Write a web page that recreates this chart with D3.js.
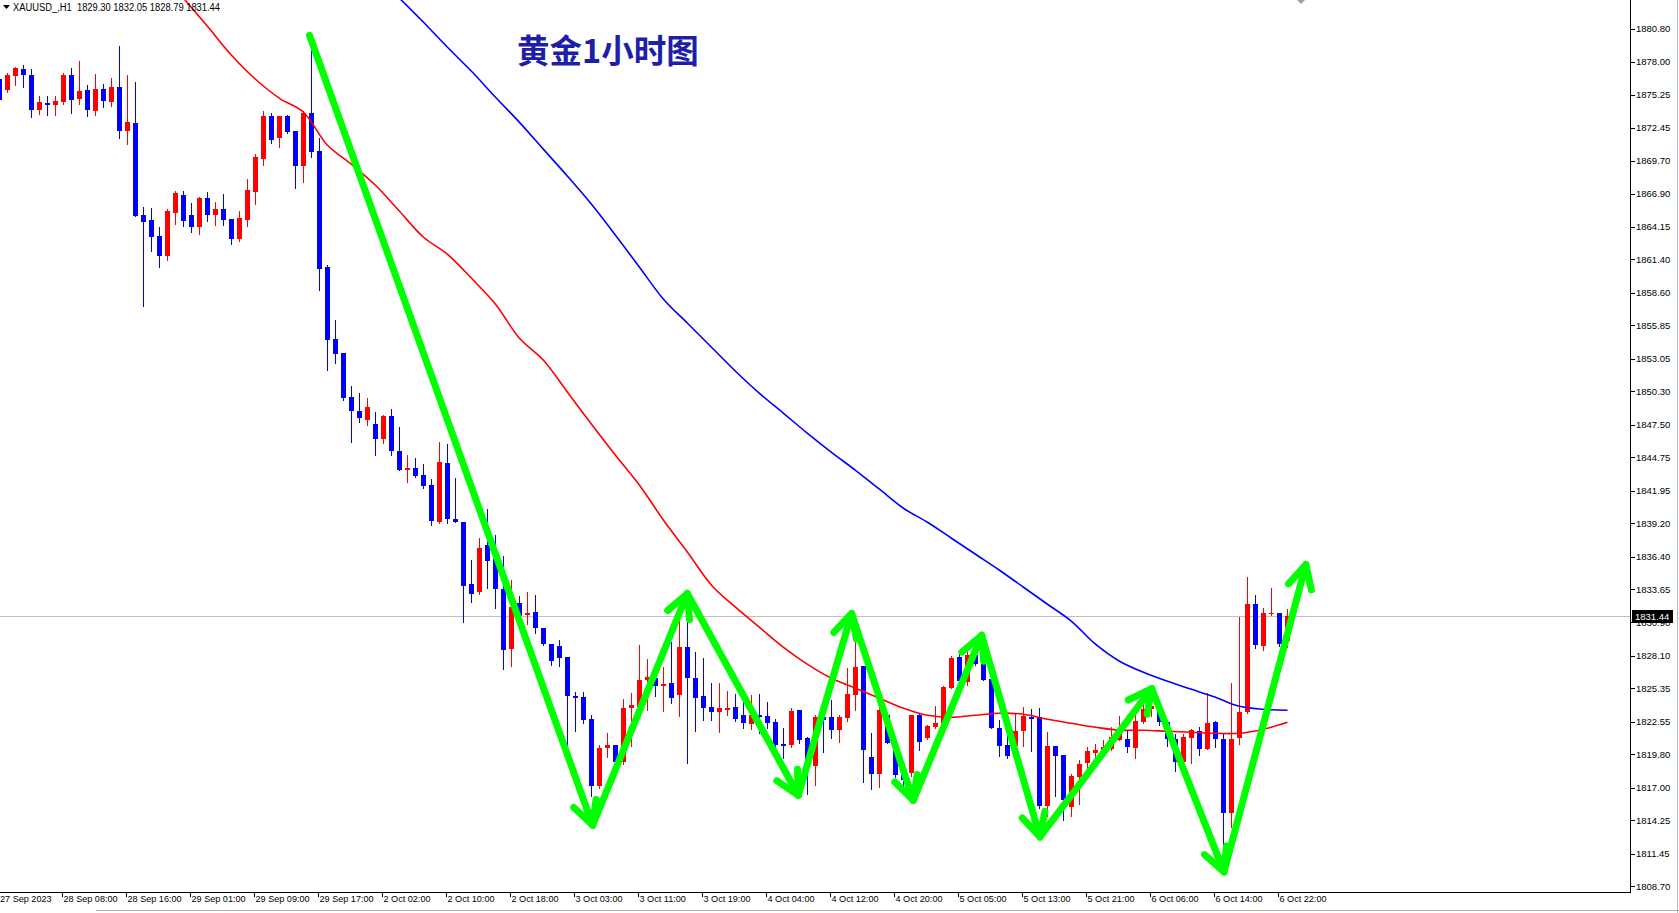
<!DOCTYPE html>
<html><head><meta charset="utf-8">
<script src="https://cdn.jsdelivr.net/npm/d3@7"></script>
<style>html,body{margin:0;padding:0;background:#fff;overflow:hidden}</style>
</head><body>
<script>
const symbolInfo = "XAUUSD_,H1  1829.30 1832.05 1828.79 1831.44";
const chartTitle = "黄金1小时图";

const openP = [1876.54,1875.61,1876.82,1877.38,1876.88,1873.93,1874.52,1874.35,1874.61,1876.88,
1874.86,1875.61,1873.85,1875.70,1874.61,1875.87,1872.17,1872.84,1865.11,1864.69,
1863.34,1861.66,1865.27,1866.79,1865.11,1864.10,1866.54,1865.11,1865.61,1864.77,
1863.09,1864.69,1867.04,1869.81,1873.43,1871.58,1873.43,1872.17,1869.23,1873.68,
1870.49,1860.74,1854.68,1853.51,1849.81,1848.63,1847.87,1847.54,1846.28,1848.21,
1845.27,1843.67,1843.84,1843.25,1842.41,1839.30,1844.26,1839.55,1839.30,1834.09,
1833.42,1837.37,1836.19,1833.67,1828.62,1832.49,1831.48,1831.73,1830.39,1829.05,
1828.88,1827.95,1824.67,1824.59,1822.74,1817.11,1820.30,1820.56,1819.13,1823.67,
1823.75,1826.02,1826.19,1825.51,1825.77,1824.76,1828.79,1826.19,1824.67,1823.75,
1823.33,1823.50,1823.75,1823.08,1822.32,1823.08,1822.99,1822.49,1820.64,1820.56,
1823.50,1821.14,1818.79,1822.91,1822.91,1821.82,1822.83,1824.76,1827.20,1819.55,
1818.12,1823.08,1820.72,1818.20,1818.20,1823.08,1821.14,1822.07,1822.40,1825.35,
1827.95,1825.85,1828.12,1827.45,1826.10,1821.98,1820.56,1820.47,1821.73,1822.91,
1822.91,1815.43,1820.47,1819.71,1815.35,1817.87,1819.04,1819.88,1820.13,1820.22,
1820.98,1821.06,1820.30,1822.49,1823.58,1823.50,1822.49,1821.06,1819.13,1821.14,
1821.73,1820.22,1822.49,1821.06,1814.84,1821.14,1823.33,1832.41,1828.88,1831.57,
1831.65,1829.30];
const highP = [1876.79,1877.07,1877.57,1877.72,1877.38,1875.11,1875.11,1875.11,1877.07,1877.46,
1878.05,1876.03,1876.96,1876.12,1876.62,1879.31,1876.88,1876.29,1865.78,1865.70,
1864.10,1865.61,1867.13,1867.13,1866.12,1866.62,1867.04,1866.20,1866.87,1864.77,
1865.44,1868.13,1870.23,1873.85,1873.68,1873.43,1873.50,1872.17,1873.85,1878.98,
1871.58,1860.90,1856.28,1853.51,1850.73,1850.14,1849.72,1848.55,1848.30,1848.80,
1847.29,1844.93,1844.68,1844.18,1842.92,1846.03,1845.86,1843.00,1839.30,1836.11,
1837.95,1840.39,1838.21,1836.44,1834.43,1833.08,1833.42,1833.16,1830.39,1829.05,
1829.38,1827.95,1825.01,1825.01,1823.08,1820.56,1821.56,1820.56,1824.42,1824.93,
1828.96,1827.78,1826.86,1827.11,1829.21,1831.48,1831.06,1828.37,1827.87,1825.77,
1825.77,1825.09,1824.84,1824.17,1824.76,1824.84,1824.17,1822.74,1821.98,1823.67,
1823.50,1821.23,1823.08,1824.34,1824.34,1823.08,1827.03,1829.97,1827.20,1821.56,
1824.42,1823.08,1820.98,1818.45,1823.08,1823.16,1822.23,1823.83,1825.51,1828.04,
1828.21,1828.54,1828.54,1827.70,1826.10,1822.66,1821.31,1823.16,1823.75,1823.58,
1823.67,1821.65,1820.47,1819.71,1818.12,1819.30,1820.39,1820.64,1820.98,1822.07,
1822.99,1821.73,1823.33,1824.17,1824.34,1823.75,1822.49,1821.48,1821.48,1821.90,
1822.07,1824.93,1822.57,1821.56,1825.77,1831.31,1834.68,1833.16,1832.07,1833.75,
1831.65,1832.05];
const lowP = [1874.61,1875.47,1876.04,1875.89,1873.37,1873.60,1873.51,1873.51,1874.44,1873.68,
1874.44,1873.43,1873.51,1874.19,1874.27,1871.58,1871.08,1865.02,1857.46,1862.08,
1860.74,1861.32,1864.35,1864.18,1863.68,1863.51,1864.60,1864.27,1864.27,1862.67,
1862.92,1864.18,1866.03,1869.31,1871.16,1870.82,1872.00,1867.38,1867.88,1869.98,
1858.80,1852.08,1852.67,1849.56,1846.03,1847.71,1847.45,1844.93,1845.94,1844.93,
1843.67,1842.66,1843.08,1842.16,1839.05,1839.22,1839.22,1839.30,1830.90,1832.58,
1833.25,1833.75,1832.07,1826.94,1827.20,1831.06,1830.73,1829.97,1828.96,1827.28,
1827.20,1820.13,1821.73,1822.40,1816.27,1816.94,1819.55,1818.96,1818.96,1820.47,
1823.58,1823.50,1824.67,1823.41,1824.09,1823.00,1819.04,1821.73,1822.66,1822.66,
1821.65,1823.08,1822.57,1821.98,1821.90,1821.56,1821.98,1820.39,1819.46,1820.39,
1820.72,1816.44,1817.19,1819.97,1821.14,1820.81,1822.57,1823.50,1817.45,1816.86,
1817.02,1820.72,1817.87,1816.52,1817.95,1820.13,1821.06,1821.98,1822.32,1825.35,
1825.93,1825.60,1827.28,1826.02,1821.98,1819.63,1819.46,1820.13,1820.47,1820.05,
1815.26,1814.59,1816.27,1814.25,1814.59,1815.60,1818.45,1819.30,1819.97,1820.13,
1820.98,1819.97,1819.46,1822.40,1822.99,1822.24,1820.47,1818.37,1819.13,1819.04,
1819.71,1820.22,1820.39,1810.05,1813.66,1820.64,1823.25,1828.71,1828.54,1831.48,
1828.88,1828.79];
const closeP = [1874.77,1876.88,1877.46,1876.90,1873.93,1874.61,1874.38,1874.69,1876.88,1874.77,
1875.53,1873.93,1875.70,1874.69,1875.87,1872.17,1872.92,1865.02,1864.52,1863.26,
1861.66,1865.44,1866.96,1864.60,1864.10,1866.54,1865.11,1865.61,1864.69,1863.09,
1864.85,1867.21,1869.98,1873.43,1871.41,1873.43,1872.08,1869.23,1873.68,1870.40,
1860.57,1854.60,1853.42,1849.72,1848.63,1848.04,1848.97,1846.28,1848.21,1845.27,
1843.67,1843.84,1843.17,1842.33,1839.39,1844.34,1839.55,1839.30,1833.92,1833.25,
1837.11,1836.02,1833.67,1828.54,1832.16,1831.40,1831.65,1830.39,1829.05,1827.62,
1827.87,1824.67,1824.51,1822.66,1817.11,1820.30,1820.56,1819.13,1823.67,1823.92,
1826.02,1826.27,1825.51,1825.68,1824.51,1828.79,1826.19,1824.51,1823.67,1823.33,
1823.67,1823.67,1822.74,1822.40,1823.08,1822.91,1822.40,1820.56,1820.47,1823.41,
1820.98,1818.87,1822.91,1822.66,1821.82,1822.91,1824.84,1827.11,1820.13,1818.12,
1823.50,1820.72,1818.04,1817.61,1823.08,1820.81,1822.15,1822.40,1825.43,1827.87,
1825.93,1828.12,1827.36,1826.02,1821.98,1820.47,1819.63,1821.73,1822.99,1822.74,
1815.43,1820.47,1819.63,1815.93,1817.95,1818.96,1820.05,1820.13,1820.39,1821.23,
1821.73,1820.39,1822.57,1823.58,1823.83,1822.49,1821.06,1819.13,1821.23,1821.82,
1820.22,1822.40,1821.06,1814.84,1821.06,1823.33,1832.41,1828.96,1831.65,1831.65,
1829.05,1831.44];

const maRedBars = [23,26,29,32,35,38,41,44,47,50,53,56,59,62,65,68,71,74,77,80,83,86,89,92,95,98,101,104,107,110,113,116,119,122,125,128,131,134,137,140,143,146,149,152,155,158,161];
const maRedVals = [1883.35,1880.99,1878.56,1876.54,1874.94,1873.77,1870.99,1869.39,1867.63,1865.44,1863.26,1861.83,1859.81,1857.63,1854.77,1852.92,1850.23,1847.54,1844.93,1842.41,1839.47,1836.78,1834.01,1832.16,1830.47,1828.79,1827.36,1826.19,1825.35,1824.51,1823.67,1823.08,1822.91,1823.08,1823.25,1823.16,1822.74,1822.40,1822.07,1821.82,1821.82,1821.73,1821.65,1821.56,1821.56,1821.90,1822.49];
const maBlueBars = [50,53,56,59,62,65,68,71,74,77,80,83,86,89,92,95,98,101,104,107,110,113,116,119,122,125,128,131,134,137,140,143,146,149,152,155,158,161];
const maBlueVals = [1883.35,1881.33,1879.23,1877.21,1875.03,1872.92,1870.65,1868.39,1866.03,1863.43,1860.74,1858.05,1856.03,1854.01,1852.00,1850.14,1848.46,1846.78,1845.18,1843.67,1842.08,1840.48,1839.30,1837.96,1836.61,1835.27,1833.84,1832.41,1830.98,1829.05,1827.62,1826.69,1825.93,1825.26,1824.59,1823.83,1823.58,1823.50];

const timeTickBars = [0,8,16,24,32,40,48,56,64,72,80,88,96,104,112,120,128,136,144,152,160];
const timeTickLabels = ["27 Sep 2023","28 Sep 08:00","28 Sep 16:00","29 Sep 01:00","29 Sep 09:00","29 Sep 17:00","2 Oct 02:00","2 Oct 10:00","2 Oct 18:00","3 Oct 03:00","3 Oct 11:00","3 Oct 19:00","4 Oct 04:00","4 Oct 12:00","4 Oct 20:00","5 Oct 05:00","5 Oct 13:00","5 Oct 21:00","6 Oct 06:00","6 Oct 14:00","6 Oct 22:00"];
const priceTicks = [1880.80,1878.00,1875.25,1872.45,1869.70,1866.90,1864.15,1861.40,1858.60,1855.85,1853.05,1850.30,1847.50,1844.75,1841.95,1839.20,1836.40,1833.65,1830.90,1828.10,1825.35,1822.55,1819.80,1817.00,1814.25,1811.45,1808.70];
const lastPrice = 1831.44;

const arrowBars = [38.75,74.15,85.98,99.85,106.52,114.22,122.77,130.06,144.02,153.06,163.3];
const arrowPrices = [1880.24,1813.83,1833.31,1816.35,1831.63,1815.93,1829.80,1812.85,1825.32,1809.91,1835.75];

const W = 1679, H = 913, plotRight = 1630, plotBottom = 892;
const x = d3.scaleLinear().domain([0, 1]).range([-0.5, 7.5]);
const y = d3.scaleLinear().domain([1808.70, 1880.80]).range([886.3, 28.6]);

const svg = d3.select("body").append("svg").attr("width", W).attr("height", H)
  .style("display", "block").style("background", "#fff");

svg.append("defs").append("clipPath").attr("id", "plotclip")
  .append("rect").attr("x", 0).attr("y", 0).attr("width", plotRight).attr("height", plotBottom);

const plot = svg.append("g").attr("clip-path", "url(#plotclip)");

// current price line
plot.append("line")
  .attr("x1", 0).attr("x2", plotRight)
  .attr("y1", Math.round(y(lastPrice)) + 0.5).attr("y2", Math.round(y(lastPrice)) + 0.5)
  .attr("stroke", "#c0c0c0").attr("stroke-width", 1);

// candles
const candles = d3.range(openP.length).map(i => ({i, o: openP[i], h: highP[i], l: lowP[i], c: closeP[i]}));
const cg = plot.append("g").attr("shape-rendering", "crispEdges");
cg.selectAll("line.wick").data(candles).join("line")
  .attr("class", "wick")
  .attr("x1", d => x(d.i)).attr("x2", d => x(d.i))
  .attr("y1", d => Math.round(y(d.h))).attr("y2", d => Math.round(y(d.l)) + 1)
  .attr("stroke", d => d.c < d.o ? "#0000ff" : "#ff0000").attr("stroke-width", 1);
cg.selectAll("rect.body").data(candles).join("rect")
  .attr("class", "body")
  .attr("x", d => x(d.i) - 2.5).attr("width", 5)
  .attr("y", d => Math.round(y(Math.max(d.o, d.c))))
  .attr("height", d => Math.max(1, Math.round(y(Math.min(d.o, d.c))) - Math.round(y(Math.max(d.o, d.c)))))
  .attr("fill", d => d.c < d.o ? "#0000ff" : "#ff0000");

// moving averages
const maLine = d3.line().x(d => x(d[0])).y(d => y(d[1])).curve(d3.curveCatmullRom.alpha(0.5));
plot.append("path").datum(d3.zip(maRedBars, maRedVals)).attr("d", maLine)
  .attr("fill", "none").attr("stroke", "#ff0000").attr("stroke-width", 1.6);
plot.append("path").datum(d3.zip(maBlueBars, maBlueVals)).attr("d", maLine)
  .attr("fill", "none").attr("stroke", "#0000ff").attr("stroke-width", 1.6);

// green zigzag arrows
const pts = arrowBars.map((b, k) => [x(b), y(arrowPrices[k])]);
const ag = svg.append("g").attr("fill", "none").attr("stroke", "#00ff00")
  .attr("stroke-width", 7).attr("stroke-linecap", "round").attr("stroke-linejoin", "round");
for (let k = 0; k < pts.length - 1; k++) {
  const [x0, y0] = pts[k], [x1, y1] = pts[k + 1];
  ag.append("line").attr("x1", x0).attr("y1", y0).attr("x2", x1).attr("y2", y1);
  const ang = Math.atan2(y0 - y1, x0 - x1);
  const L = 26, spread = 27 * Math.PI / 180;
  const a1 = [x1 + L * Math.cos(ang + spread), y1 + L * Math.sin(ang + spread)];
  const a2 = [x1 + L * Math.cos(ang - spread), y1 + L * Math.sin(ang - spread)];
  ag.append("path").attr("d", `M${a1[0]},${a1[1]}L${x1},${y1}L${a2[0]},${a2[1]}`);
}

// axes frame
const fg = svg.append("g").attr("shape-rendering", "crispEdges");
fg.append("line").attr("x1", plotRight + 0.5).attr("x2", plotRight + 0.5).attr("y1", 0).attr("y2", plotBottom + 1)
  .attr("stroke", "#000");
fg.append("line").attr("x1", 0).attr("x2", plotRight + 1).attr("y1", plotBottom + 0.5).attr("y2", plotBottom + 0.5)
  .attr("stroke", "#000");
// window borders
fg.append("line").attr("x1", 1677.5).attr("x2", 1677.5).attr("y1", 0).attr("y2", H).attr("stroke", "#a9b8cc");
fg.append("line").attr("x1", 96).attr("x2", W).attr("y1", 910.5).attr("y2", 910.5).attr("stroke", "#b0b0b0");

// price axis
const yAxisG = svg.append("g");
yAxisG.selectAll("line").data(priceTicks).join("line")
  .attr("x1", plotRight + 1).attr("x2", plotRight + 5)
  .attr("y1", d => Math.round(y(d)) + 0.5).attr("y2", d => Math.round(y(d)) + 0.5)
  .attr("stroke", "#000").attr("shape-rendering", "crispEdges");
yAxisG.selectAll("text").data(priceTicks).join("text")
  .attr("x", 1636).attr("y", d => y(d)).attr("dy", "0.35em")
  .attr("font-family", "Liberation Sans, Arial, sans-serif").attr("font-size", 9.5)
  .attr("fill", "#000").text(d => d.toFixed(2));

// last price label
const lpY = Math.round(y(lastPrice));
svg.append("rect").attr("x", 1632).attr("y", lpY - 6).attr("width", 41).attr("height", 13).attr("fill", "#000");
svg.append("text").attr("x", 1635).attr("y", lpY + 0.5).attr("dy", "0.35em")
  .attr("font-family", "Liberation Sans, Arial, sans-serif").attr("font-size", 9.5)
  .attr("fill", "#fff").text(lastPrice.toFixed(2));

// time axis
const xAxisG = svg.append("g");
xAxisG.selectAll("line").data(timeTickBars).join("line")
  .attr("x1", d => Math.round(x(d)) - 1.5).attr("x2", d => Math.round(x(d)) - 1.5)
  .attr("y1", plotBottom + 1).attr("y2", plotBottom + 5)
  .attr("stroke", "#000").attr("shape-rendering", "crispEdges");
xAxisG.selectAll("text").data(timeTickBars).join("text")
  .attr("x", (d, k) => k === 0 ? 0 : x(d)).attr("y", 899).attr("dy", "0.35em")
  .attr("font-family", "Liberation Sans, Arial, sans-serif").attr("font-size", 9.1)
  .attr("fill", "#000").text((d, k) => timeTickLabels[k]);

// chart shift marker
svg.append("path").attr("d", "M1297,0L1305,0L1301,4Z").attr("fill", "#a0a0a0");

// header
svg.append("path").attr("d", "M3,5L10,5L6.5,9Z").attr("fill", "#000");
svg.append("text").attr("x", 13).attr("y", 7).attr("dy", "0.35em")
  .attr("font-family", "Liberation Sans, Arial, sans-serif").attr("font-size", 10)
  .attr("textLength", 207).attr("lengthAdjust", "spacingAndGlyphs")
  .attr("fill", "#000").style("white-space", "pre").text(symbolInfo);

// title
svg.append("text").attr("x", 517).attr("y", 51).attr("dy", "0.36em")
  .attr("font-family", "Noto Sans CJK SC, sans-serif").attr("font-weight", "bold").attr("font-size", 32.5)
  .attr("fill", "#1e1ea8").text(chartTitle);
</script>
</body></html>
